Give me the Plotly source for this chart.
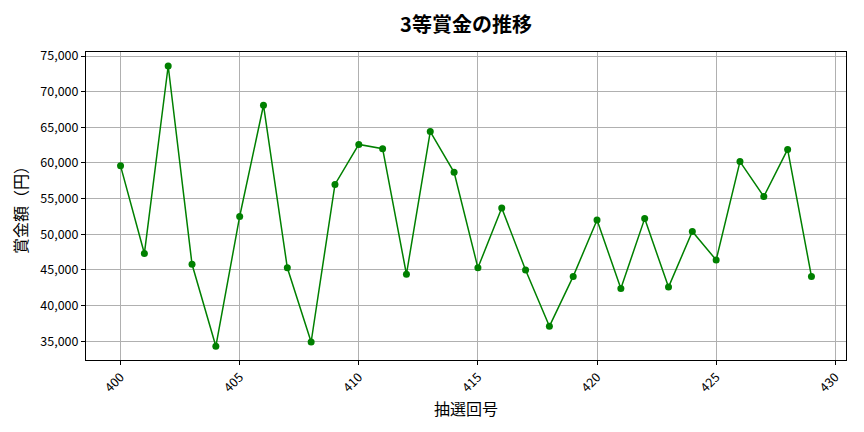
import plotly.graph_objects as go

# 3等賞金 per draw
draws = list(range(400, 430))
prize = [
    59600, 47300, 73600, 45800, 34300, 52500, 68100, 45300, 34900, 57000,
    62600, 62000, 44400, 64400, 58700, 45300, 53700, 45000, 37100, 44100,
    52000, 42400, 52200, 42600, 50400, 46400, 60200, 55300, 61900, 44100,
]

FONT = "Noto Sans CJK JP"

fig = go.Figure(
    go.Scatter(
        x=draws,
        y=prize,
        mode="lines+markers",
        line=dict(color="green", width=1.5),
        marker=dict(color="green", size=7),
    )
)

# page body adds an 8px offset, so margins are shifted by that amount
fig.update_layout(
    width=864,
    height=432,
    margin=dict(l=78, r=26, t=44, b=80),
    paper_bgcolor="white",
    plot_bgcolor="white",
    showlegend=False,
    font=dict(family=FONT, color="black", size=12.5),
    title=dict(
        text="<b>3等賞金の推移</b>",
        xref="paper", x=0.5, xanchor="center",
        y=0.96, yanchor="middle",
        font=dict(family=FONT, size=20, color="black"),
    ),
)

fig.update_xaxes(
    range=[398.55, 430.45],
    tickmode="array",
    tickvals=[400, 405, 410, 415, 420, 425, 430],
    tickangle=-45,
    ticks="outside", ticklen=4, tickcolor="black",
    showgrid=True, gridcolor="#b0b0b0", gridwidth=1,
    showline=True, linecolor="black", linewidth=1, mirror=True,
    zeroline=False, automargin=False,
    title=dict(text="抽選回号", font=dict(family=FONT, size=16), standoff=6),
)

fig.update_yaxes(
    range=[32377, 75563],
    tickmode="array",
    tickvals=[35000, 40000, 45000, 50000, 55000, 60000, 65000, 70000, 75000],
    tickformat=",d",
    ticks="outside", ticklen=4, tickcolor="black",
    showgrid=True, gridcolor="#b0b0b0", gridwidth=1,
    showline=True, linecolor="black", linewidth=1, mirror=True,
    zeroline=False, automargin=False,
    title=dict(text="賞金額（円）", font=dict(family=FONT, size=16), standoff=8),
)

fig.write_html("out.html")
